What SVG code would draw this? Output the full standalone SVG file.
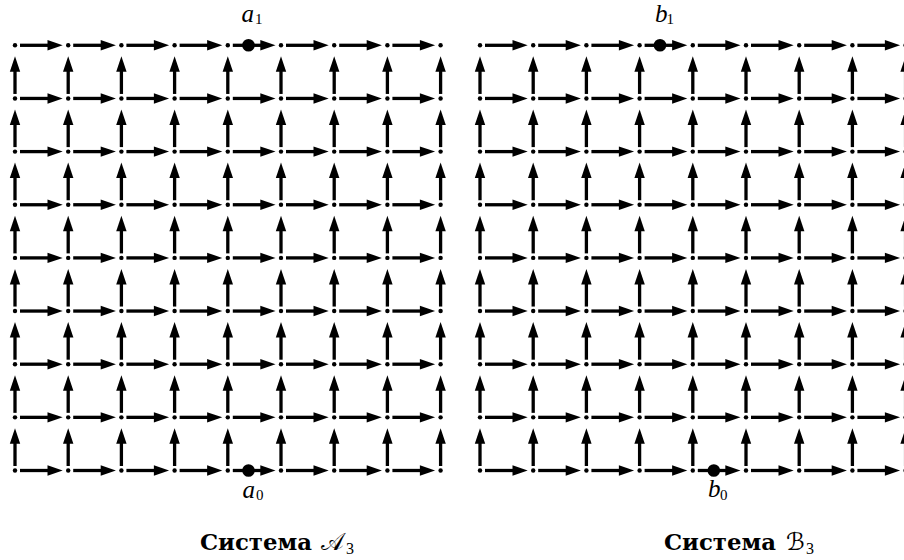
<svg xmlns="http://www.w3.org/2000/svg" width="904" height="560" viewBox="0 0 904 560">
<style>
.e{stroke:#000;stroke-width:3.3;fill:none}
.hd{fill:#000;stroke:none}
.dot{fill:#000}
.big{fill:#000}
.lbl{font-family:"Liberation Serif",serif;font-style:italic;font-size:25px;fill:#000}
.sub{font-family:"Liberation Serif",serif;font-size:15px;fill:#000}
.csub{font-family:"Liberation Serif",serif;font-size:16px;fill:#000}
.cap{font-family:"DejaVu Serif",serif;font-weight:bold;font-size:22px;fill:#000}
.scr{font-family:"DejaVu Serif","DejaVu Sans","Noto Sans",serif;font-size:24px;fill:#000}
</style>
<defs>
<g id="ha"><line class="e" x1="5" y1="0" x2="36" y2="0"/><polygon class="hd" points="47.7,0 32.5,-5.2 32.5,5.2"/></g>
<g id="hr">
<use href="#ha" x="0"/><use href="#ha" x="53.2"/><use href="#ha" x="106.4"/><use href="#ha" x="159.6"/>
<use href="#ha" x="212.8"/><use href="#ha" x="266"/><use href="#ha" x="319.2"/><use href="#ha" x="372.4"/>
</g>
<g id="va"><line class="e" x1="0" y1="-4.5" x2="0" y2="-30"/><polygon class="hd" points="0,-42.15 -5.2,-26.65 5.2,-26.65"/></g>
<g id="vr">
<use href="#va" x="0"/><use href="#va" x="53.2"/><use href="#va" x="106.4"/><use href="#va" x="159.6"/><use href="#va" x="212.8"/>
<use href="#va" x="266"/><use href="#va" x="319.2"/><use href="#va" x="372.4"/><use href="#va" x="425.6"/>
</g>
<g id="dr">
<circle class="dot" cx="0" cy="0" r="2.2"/><circle class="dot" cx="53.2" cy="0" r="2.2"/><circle class="dot" cx="106.4" cy="0" r="2.2"/>
<circle class="dot" cx="159.6" cy="0" r="2.2"/><circle class="dot" cx="212.8" cy="0" r="2.2"/><circle class="dot" cx="266" cy="0" r="2.2"/>
<circle class="dot" cx="319.2" cy="0" r="2.2"/><circle class="dot" cx="372.4" cy="0" r="2.2"/><circle class="dot" cx="425.6" cy="0" r="2.2"/>
</g>
<g id="arrows">
<use href="#hr" y="45.3"/><use href="#hr" y="98.45"/><use href="#hr" y="151.6"/><use href="#hr" y="204.75"/><use href="#hr" y="257.9"/>
<use href="#hr" y="311.05"/><use href="#hr" y="364.2"/><use href="#hr" y="417.35"/><use href="#hr" y="470.5"/>
<use href="#vr" y="98.45"/><use href="#vr" y="151.6"/><use href="#vr" y="204.75"/><use href="#vr" y="257.9"/>
<use href="#vr" y="311.05"/><use href="#vr" y="364.2"/><use href="#vr" y="417.35"/><use href="#vr" y="470.5"/>
</g>
<g id="dots">
<use href="#dr" y="45.3"/><use href="#dr" y="98.45"/><use href="#dr" y="151.6"/><use href="#dr" y="204.75"/><use href="#dr" y="257.9"/>
<use href="#dr" y="311.05"/><use href="#dr" y="364.2"/><use href="#dr" y="417.35"/><use href="#dr" y="470.5"/>
</g>
</defs>
<rect width="904" height="560" fill="#fff"/>
<g id="connectors">
<use href="#arrows" x="15"/>
<use href="#arrows" x="480"/>
</g>
<g id="grid-points">
<use href="#dots" x="15"/>
<use href="#dots" x="480"/>
</g>
<g id="a1"><circle class="big" cx="248.5" cy="45.3" r="6.3"/><text class="lbl" x="241.5" y="21.7">a</text><text class="sub" x="255" y="24">1</text></g>
<g id="a0"><circle class="big" cx="248.5" cy="470.5" r="6.3"/><text class="lbl" x="242.5" y="497.5">a</text><text class="sub" x="256" y="500">0</text></g>
<g id="b1"><circle class="big" cx="660" cy="45.3" r="6.3"/><text class="lbl" x="655" y="21.7">b</text><text class="sub" x="666.5" y="24">1</text></g>
<g id="b0"><circle class="big" cx="713.8" cy="470.5" r="6.3"/><text class="lbl" x="708" y="497">b</text><text class="sub" x="720" y="499.5">0</text></g>
<g id="caption-A"><text class="cap" x="200" y="550" textLength="112" lengthAdjust="spacingAndGlyphs">Система</text><text class="scr" x="321" y="550">𝒜</text><text class="csub" x="346" y="554">3</text></g>
<g id="caption-B"><text class="cap" x="664" y="550" textLength="112" lengthAdjust="spacingAndGlyphs">Система</text><text class="scr" x="786" y="550" font-size="27">ℬ</text><text class="csub" x="806" y="554">3</text></g>
</svg>
